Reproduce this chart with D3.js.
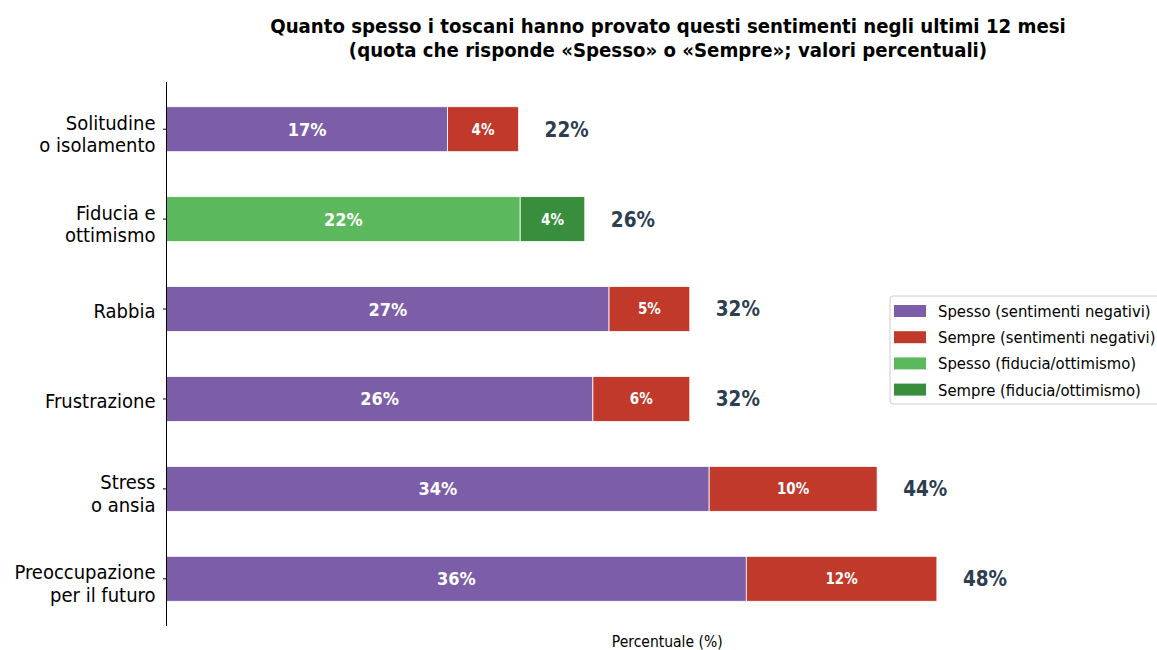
<!DOCTYPE html>
<html><head><meta charset="utf-8">
<script src="https://cdn.jsdelivr.net/npm/d3@7"></script>
<style>
body{margin:0;background:#fff;}
svg{display:block;font-family:"DejaVu Sans Condensed","DejaVu Sans",sans-serif;font-stretch:condensed;}
</style></head>
<body><svg id="c" width="1157" height="650"></svg>
<script>
const categories = ["Solitudine\no isolamento","Fiducia e\nottimismo","Rabbia","Frustrazione","Stress\no ansia","Preoccupazione\nper il futuro"];
const spesso = [17.4, 21.9, 27.4, 26.4, 33.6, 35.9];
const sempre = [4.4, 4.0, 5.0, 6.0, 10.4, 11.8];
const isPositive = [false, true, false, false, false, false];
const seriesNames = ["Spesso (sentimenti negativi)","Sempre (sentimenti negativi)","Spesso (fiducia/ottimismo)","Sempre (fiducia/ottimismo)"];
const titleLines = ["Quanto spesso i toscani hanno provato questi sentimenti negli ultimi 12 mesi","(quota che risponde «Spesso» o «Sempre»; valori percentuali)"];
const xLabel = "Percentuale (%)";

const colors = {negS:"#7b5ea7", negA:"#c0392b", posS:"#5cb85c", posA:"#388e3c"};
const legendColors = [colors.negS, colors.negA, colors.posS, colors.posA];

const svg = d3.select("#c");
const L = 166.5, R = 1168, T = 82, B = 626;
const totals = spesso.map((v,i)=>v+sempre[i]);
const x = d3.scaleLinear().domain([0, d3.max(totals)*1.3]).range([L, R]);
const y = d3.scaleBand().domain(categories).range([T, B]).paddingInner(0.5).paddingOuter(0.275);

// title
const title = svg.append("text").attr("x", 668).attr("text-anchor","middle")
  .attr("font-weight","bold").attr("font-size", 20.2).attr("fill","#000");
titleLines.forEach((t,i)=>title.append("tspan").attr("x",668).attr("y", 33 + i*24).text(t));

// bars
const g = svg.append("g");
categories.forEach((c,i)=>{
  const y0 = y(c), h = y.bandwidth();
  const cS = isPositive[i] ? colors.posS : colors.negS;
  const cA = isPositive[i] ? colors.posA : colors.negA;
  g.append("rect").attr("x", x(0)).attr("y", y0).attr("width", x(spesso[i])-x(0)).attr("height", h)
    .attr("fill", cS).attr("stroke","#fff").attr("stroke-width",0.8);
  g.append("rect").attr("x", x(spesso[i])).attr("y", y0).attr("width", x(totals[i])-x(spesso[i])).attr("height", h)
    .attr("fill", cA).attr("stroke","#fff").attr("stroke-width",0.8);
  const cy = y0 + h/2;
  g.append("text").attr("x", (x(0)+x(spesso[i]))/2).attr("y", cy).attr("dy","0.36em")
    .attr("text-anchor","middle").attr("fill","#fff").attr("font-weight","bold").attr("font-size",18)
    .text(Math.round(spesso[i])+"%");
  g.append("text").attr("x", (x(spesso[i])+x(totals[i]))/2).attr("y", cy).attr("dy","0.36em")
    .attr("text-anchor","middle").attr("fill","#fff").attr("font-weight","bold").attr("font-size",15)
    .text(Math.round(sempre[i])+"%");
  g.append("text").attr("x", x(totals[i])+26).attr("y", cy).attr("dy","0.36em")
    .attr("text-anchor","start").attr("fill","#2c3e50").attr("font-weight","bold").attr("font-size",20.5)
    .text(Math.round(totals[i])+"%");
});

// y axis
const ya = svg.append("g").attr("transform",`translate(${L},0)`).call(d3.axisLeft(y).tickSize(3.5).tickSizeOuter(0));
ya.attr("font-family", null).attr("font-size", null);
ya.select(".domain").attr("stroke","#000").attr("stroke-width",1).attr("d",`M0,${T}V${B}`);
ya.selectAll(".tick line").attr("stroke","#000");
ya.selectAll(".tick text").each(function(d){
  const t = d3.select(this); t.text(null);
  const lines = d.split("\n");
  t.attr("font-size",20).attr("fill","#000").attr("x",-11);
  lines.forEach((ln,k)=>t.append("tspan").attr("x",-11).attr("dy", k===0 ? (0.45 - (lines.length-1)*0.42)+"em" : "1.12em").text(ln));
}).attr("dy",null);

// x label
svg.append("text").attr("x", (L+R)/2).attr("y", 647).attr("text-anchor","middle").attr("font-size",15.5).attr("fill","#000").text(xLabel);

// legend
const lg = svg.append("g").attr("transform","translate(890,296)");
lg.append("rect").attr("x",0).attr("y",0).attr("width",272).attr("height",108).attr("rx",3)
  .attr("fill","#fff").attr("fill-opacity",0.8).attr("stroke","#cccccc");
seriesNames.forEach((n,i)=>{
  const yy = 15 + i*26.2;
  lg.append("rect").attr("x",4).attr("y",yy-6).attr("width",32).attr("height",12).attr("fill",legendColors[i]);
  lg.append("text").attr("x",48).attr("y",yy).attr("dy","0.36em").attr("font-size",16.5).attr("fill","#000").text(n);
});
</script></body></html>
